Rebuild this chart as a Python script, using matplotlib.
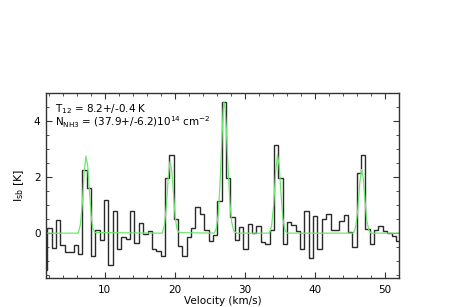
import numpy as np
import matplotlib
matplotlib.use("Agg")
import matplotlib.pyplot as plt
from matplotlib.ticker import MultipleLocator

# Espectro observado (canales de ancho constante)
v_primero = 1.17      # borde izquierdo del primer canal (km/s)
ancho_canal = 0.622   # km/s
T_sb = [
    -1.30, 0.19, -0.52, 0.46, -0.43, -0.67, -0.67, -0.43, -0.76,
    2.25, 1.60, -0.82, 0.13, -0.25, 1.18, -1.14, 0.79, -0.58, -0.13,
    -0.21, 0.79, -0.35, 0.37, -0.02, 0.07, -0.57, -0.64, -0.82, 1.95,
    2.79, 0.52, -0.46, -0.82, -0.12, 0.20, 0.94, 0.68, 0.10, -0.29,
    -0.07, 1.14, 4.69, 1.95, 0.58, -0.25, 0.23, -0.57, 0.31, 0.00,
    0.25, -0.31, -0.37, 0.10, 3.14, 1.95, -0.40, 0.38, 0.30, 0.07,
    -0.57, 0.79, -0.88, 0.62, -0.57, 0.52, 0.70, 0.10, 0.13, 0.44,
    0.64, 0.05, -0.49, 2.15, 2.78, 0.14, -0.37, 0.13, 0.25, 0.08,
    -0.01, -0.10, -0.29,
]

# Ajuste del modelo (curva verde)
v_modelo = [1.6,
            6.2, 6.5, 6.8, 7.05, 7.3, 7.55, 7.8, 8.05, 8.3, 8.6,
            18.2, 18.5, 18.8, 19.05, 19.3, 19.55, 19.8, 20.05, 20.3, 20.6,
            25.6, 25.9, 26.2, 26.45, 26.7, 26.9, 27.0, 27.15, 27.35, 27.6, 27.85, 28.1, 28.4, 28.8,
            33.5, 33.8, 34.1, 34.4, 34.65, 34.9, 35.15, 35.4, 35.7, 36.0,
            45.5, 45.8, 46.1, 46.4, 46.65, 46.9, 47.15, 47.4, 47.7, 48.0,
            52.0]
T_modelo = [0.0,
            0.0, 0.3, 1.1, 2.2, 2.75, 2.4, 1.5, 0.6, 0.15, 0.02,
            0.0, 0.28, 1.0, 2.0, 2.55, 2.25, 1.4, 0.55, 0.14, 0.02,
            0.0, 0.15, 0.7, 1.8, 3.3, 4.4, 4.67, 4.5, 3.7, 2.3, 1.1, 0.4, 0.08, 0.0,
            0.0, 0.25, 1.0, 2.2, 2.8, 2.4, 1.4, 0.55, 0.12, 0.0,
            0.0, 0.2, 0.8, 1.8, 2.27, 1.95, 1.15, 0.45, 0.1, 0.0,
            0.0]

texto_T = r"T$_{12}$ = 8.2+/-0.4 K"
texto_N = r"N$_{\rm NH3}$ = (37.9+/-6.2)10$^{14}$ cm$^{-2}$"

bordes = v_primero + ancho_canal * np.arange(len(T_sb) + 1)

fig = plt.figure(figsize=(4.63, 3.07), dpi=100)
ax = fig.add_axes([0.0994, 0.0945, 0.7624, 0.6025])

ax.stairs(T_sb, bordes, baseline=None, color="#2a2a2a", lw=1.0)
ax.plot(v_modelo, T_modelo, color="#6ee66e", lw=0.9)

ax.set_xlim(1.6, 52.0)
ax.set_ylim(-1.6, 5.0)

ax.xaxis.set_major_locator(MultipleLocator(10))
ax.xaxis.set_minor_locator(MultipleLocator(2))
ax.yaxis.set_major_locator(MultipleLocator(2))
ax.yaxis.set_minor_locator(MultipleLocator(0.5))
ax.tick_params(which="both", direction="in", top=True, right=True, labelsize=7.5,
               color="#333333")
ax.tick_params(which="major", length=4)
ax.tick_params(which="minor", length=2.2)
ax.tick_params(axis="x", pad=5)
ax.tick_params(axis="y", pad=4)
for lado in ax.spines.values():
    lado.set_color("#333333")
    lado.set_linewidth(1.0)

ax.text(0.025, 0.915, texto_T, transform=ax.transAxes, fontsize=7.5, va="center")
ax.text(0.025, 0.84, texto_N, transform=ax.transAxes, fontsize=7.5, va="center")

ax.set_xlabel("Velocity (km/s)", fontsize=7.5, labelpad=0.5)
ax.set_ylabel(r"I$_{\rm sb}$ [K]", fontsize=8, labelpad=6)

fig.savefig("out.png", dpi=100)
